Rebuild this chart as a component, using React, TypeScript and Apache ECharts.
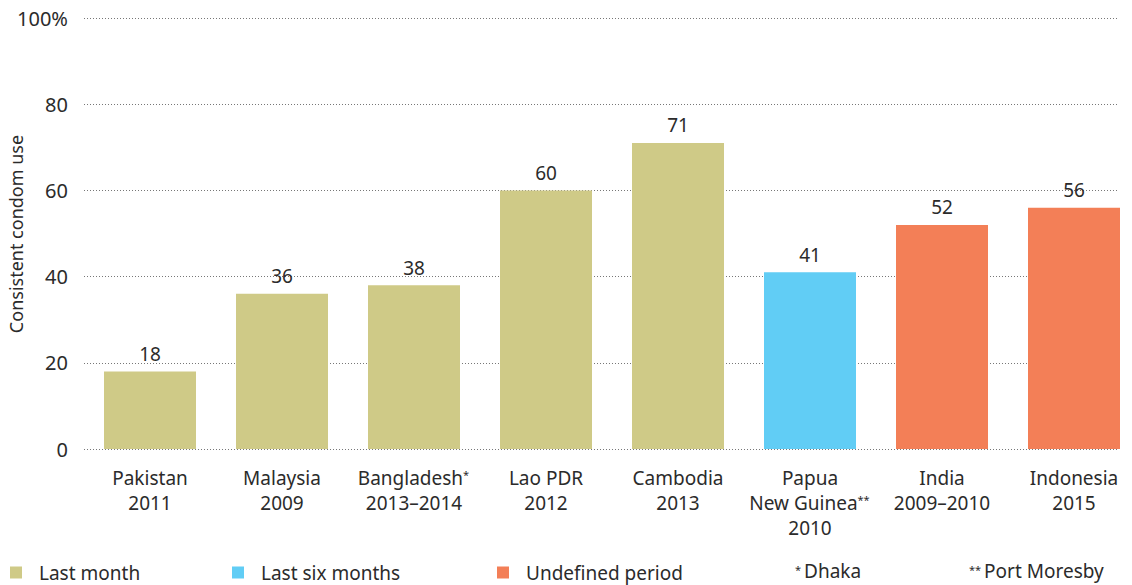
import React, { useEffect, useRef } from "react";
import * as echarts from "echarts";

const countries = ["Pakistan", "Malaysia", "Bangladesh", "Lao PDR", "Cambodia", "Papua\nNew Guinea", "India", "Indonesia"];
const notes = ["", "", "*", "", "", "**", "", ""];
const years = ["2011", "2009", "2013–2014", "2012", "2013", "2010", "2009–2010", "2015"];
const lastMonth = [18, 36, 38, 60, 71, null, null, null];
const lastSixMonths = [null, null, null, null, null, 41, null, null];
const undefinedPeriod = [null, null, null, null, null, null, 52, 56];
const yTicks = [0, 20, 40, 60, 80, 100];
const yTitle = "Consistent condom use";

const FONT = "Noto Sans";
const TXT = "#2b2b2b";
const C1 = "#CFCA87";
const C2 = "#61CDF5";
const C3 = "#F37F57";

export default function App() {
  const ref = useRef<HTMLDivElement>(null);
  useEffect(() => {
    const chart = echarts.init(ref.current!, null, { renderer: "svg" });
    const cats = countries.map((c, i) => c + notes[i] + "\n" + years[i]);
    const labelStyle = {
      show: true,
      position: "top",
      distance: 8,
      fontFamily: FONT,
      fontSize: 19,
      color: TXT,
    };
    const mkSeries = (name: string, data: (number | null)[], color: string) => ({
      name,
      type: "bar",
      stack: "all",
      barWidth: 92,
      xAxisIndex: 1,
      yAxisIndex: 1,
      data,
      itemStyle: { color },
      label: labelStyle,
    });
    const legendBase = (name: string, left: number) => ({
      data: [name],
      left,
      top: 563,
      icon: "rect",
      itemWidth: 12,
      itemHeight: 12,
      itemGap: 0,
      padding: 0,
      textStyle: { fontFamily: FONT, fontSize: 19, color: TXT, padding: [0, 0, 0, 12] },
    });
    const supRich = { s: { fontSize: 11, verticalAlign: "top", padding: [4, 1, 0, 0], fill: TXT, color: TXT, fontFamily: FONT } };
    const noteRich = { s: { fontSize: 11, verticalAlign: "top", padding: [3, 3, 0, 0], fill: TXT, color: TXT, fontFamily: FONT } };
    const yMin = yTicks[0];
    const yMax = yTicks[yTicks.length - 1];
    chart.setOption({
      animation: false,
      grid: [
        { left: 84, right: 14, top: 18, bottom: 136, outerBoundsMode: "none" },
        { left: 84, right: -8, top: 18, bottom: 136, outerBoundsMode: "none" },
      ],
      legend: [
        legendBase("Last month", 10),
        legendBase("Last six months", 232),
        legendBase("Undefined period", 497),
      ],
      xAxis: [
        { type: "category", gridIndex: 0, data: cats, show: false },
        {
          type: "category",
          gridIndex: 1,
          data: cats,
          axisLine: { show: false },
          axisTick: { show: false },
          axisLabel: {
            margin: 16,
            interval: 0,
            fontFamily: FONT,
            fontSize: 19,
            lineHeight: 25,
            color: TXT,
            formatter: (v: string) =>
              v
                .split("\n")
                .map((l) => {
                  const m = l.match(/^(.*?)(\*+)$/);
                  return m ? m[1] + "{s|" + m[2] + "}" : l;
                })
                .join("\n"),
            rich: supRich,
          },
        },
      ],
      yAxis: [
        {
          type: "value",
          gridIndex: 0,
          min: yMin,
          max: yMax,
          interval: 20,
          axisLine: { show: false },
          axisTick: { show: false },
          axisLabel: {
            margin: 16,
            fontFamily: FONT,
            fontSize: 20,
            color: TXT,
            formatter: (v: number) => (v === 100 ? "100%" : String(v)),
          },
          splitLine: { lineStyle: { color: "#777", type: [1, 2], width: 1 } },
        },
        { type: "value", gridIndex: 1, min: yMin, max: yMax, interval: 20, show: false, splitLine: { show: false } },
      ],
      series: [
        mkSeries("Last month", lastMonth, C1),
        mkSeries("Last six months", lastSixMonths, C2),
        mkSeries("Undefined period", undefinedPeriod, C3),
      ],
      graphic: [
        {
          type: "text",
          x: 16,
          y: 234,
          rotation: Math.PI / 2,
          style: { text: yTitle, fontFamily: FONT, fontSize: 18, fill: TXT, align: "center", verticalAlign: "middle" },
        },
        {
          type: "text",
          left: 795,
          top: 561,
          style: { text: "{s|*}Dhaka", fontFamily: FONT, fontSize: 19, fill: TXT, rich: noteRich },
        },
        {
          type: "text",
          left: 969,
          top: 561,
          style: { text: "{s|**}Port Moresby", fontFamily: FONT, fontSize: 19, fill: TXT, rich: noteRich },
        },
      ],
    });
    return () => chart.dispose();
  }, []);
  return <div ref={ref} style={{ position: "absolute", left: 0, top: 0, width: 1132, height: 585 }} />;
}
